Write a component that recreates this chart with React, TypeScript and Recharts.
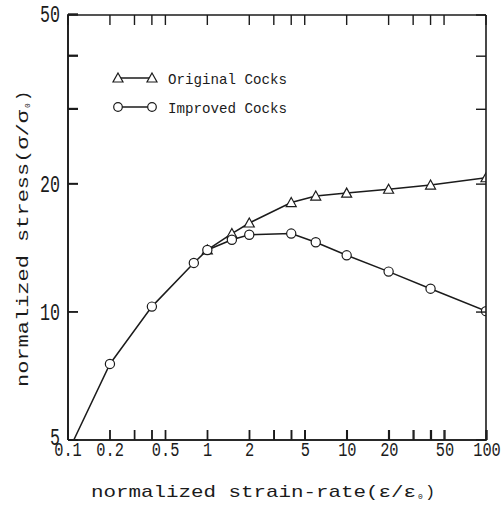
import { LineChart, Line, XAxis, YAxis, Legend, Label } from "recharts"

const strainTicks = [0.1, 0.2, 0.3, 0.4, 0.5, 1, 2, 3, 4, 5, 10, 20, 30, 40, 50, 100]
const strainLabels = [0.1, 0.2, 0.5, 1, 2, 5, 10, 20, 50, 100]
const stressTicks = [5, 10, 20, 30, 40, 50]
const stressLabels = [5, 10, 20, 50]

const improvedRate = [0.11, 0.2, 0.4, 0.8, 1, 1.5, 2, 4, 6, 10, 20, 40, 100]
const improvedStress = [5, 7.55, 10.3, 13.05, 14.0, 14.8, 15.2, 15.3, 14.6, 13.6, 12.45, 11.35, 10.05]
const originalRate = [1, 1.5, 2, 4, 6, 10, 20, 40, 100]
const originalStress = [14.0, 15.3, 16.2, 18.1, 18.75, 19.05, 19.45, 19.9, 20.7]

const improved = improvedRate.map((x, i) => ({ x, y: improvedStress[i] }))
const original = originalRate.map((x, i) => ({ x, y: originalStress[i] }))

const ink = "#1b1b1b"
const mono = '"Liberation Mono", "DejaVu Sans Mono", monospace'
const frame = { stroke: ink, strokeWidth: 1.6 }
const tickStyle = { stroke: ink, strokeWidth: 1.4 }
const hiddenTick = { fill: "none", fontSize: 1 }

const tri = (cx: number, cy: number) => `M${cx},${cy - 5} L${cx + 5},${cy + 4} L${cx - 5},${cy + 4} Z`

const TriangleDot = (p: any) => (
  <path key={p.key} d={tri(p.cx, p.cy)} fill="#fff" stroke={ink} strokeWidth={1.2} />
)

const CircleDot = (p: any) => (
  <circle key={p.key} cx={p.cx} cy={p.cy} r={p.index === 0 ? 0 : 4.6} fill="#fff" stroke={ink} strokeWidth={1.2} />
)

const BottomTick = (p: any) => {
  const v = p.payload.value
  const label = strainLabels.includes(v) ? String(v) : ""
  return (
    <text x={p.x} y={p.y + 16} textAnchor="middle" fontFamily={mono} fontSize={20} fill={ink}
      textLength={label ? label.length * 9.2 : undefined} lengthAdjust="spacingAndGlyphs">{label}</text>
  )
}

const LeftTick = (p: any) => {
  const v = p.payload.value
  const label = stressLabels.includes(v) ? String(v) : ""
  return (
    <text x={p.x - 8} y={p.y + (v === 5 ? 5 : 8)} textAnchor="end" fontFamily={mono} fontSize={23} fill={ink}
      textLength={label ? label.length * 10 : undefined} lengthAdjust="spacingAndGlyphs">{label}</text>
  )
}

const XTitle = (p: any) => {
  const vb = p.viewBox || { x: 68, y: 440, width: 418, height: 66 }
  const x0 = vb.x + 23
  const yb = vb.y + 57
  return (
    <g fontFamily={mono} fill={ink}>
      <text x={x0} y={yb} fontSize={17} textLength={325} lengthAdjust="spacingAndGlyphs">normalized strain-rate(ε/ε</text>
      <text x={x0 + 327} y={yb + 2} fontSize={8}>0</text>
      <text x={x0 + 334} y={yb} fontSize={17}>)</text>
    </g>
  )
}

const YTitle = (p: any) => {
  const vb = p.viewBox || { x: 0, y: 15, width: 68, height: 425 }
  const xb = vb.x + 28
  const y0 = vb.y + vb.height - 53
  return (
    <g fontFamily={mono} fill={ink} transform={`rotate(-90, ${xb}, ${y0})`}>
      <text x={xb} y={y0} fontSize={17} textLength={277} lengthAdjust="spacingAndGlyphs">normalized stress(σ/σ</text>
      <text x={xb + 279} y={y0 + 2} fontSize={8}>0</text>
      <text x={xb + 286} y={y0} fontSize={17}>)</text>
    </g>
  )
}

const LegendBox = () => (
  <svg width={200} height={56} style={{ display: "block" }}>
    <line x1={7} x2={43} y1={13} y2={13} stroke={ink} strokeWidth={1.3} />
    <path d={tri(8, 13)} fill="#fff" stroke={ink} strokeWidth={1.2} />
    <path d={tri(42, 13)} fill="#fff" stroke={ink} strokeWidth={1.2} />
    <text x={58} y={19} fontFamily={mono} fontSize={15} fill={ink} textLength={119} lengthAdjust="spacingAndGlyphs">Original Cocks</text>
    <line x1={7} x2={43} y1={42} y2={42} stroke={ink} strokeWidth={1.3} />
    <circle cx={8} cy={42} r={4.3} fill="#fff" stroke={ink} strokeWidth={1.2} />
    <circle cx={42} cy={42} r={4.3} fill="#fff" stroke={ink} strokeWidth={1.2} />
    <text x={58} y={48} fontFamily={mono} fontSize={15} fill={ink} textLength={119} lengthAdjust="spacingAndGlyphs">Improved Cocks</text>
  </svg>
)

// series layer: axes hidden, same plot box as the frame layer
const SeriesLayer = () => (
  <LineChart width={501} height={506} margin={{ top: 15, right: 15, left: 68, bottom: 66 }}>
    <XAxis dataKey="x" type="number" scale="log" domain={[0.1, 100]} allowDataOverflow hide />
    <YAxis type="number" scale="log" domain={[5, 50]} allowDataOverflow hide />
    <Legend layout="horizontal" verticalAlign="middle" align="center" content={LegendBox}
      wrapperStyle={{ left: 110, top: 65, width: 200, height: 56 }} />
    <Line data={original} dataKey="y" stroke={ink} strokeWidth={1.5}
      dot={TriangleDot} activeDot={false} isAnimationActive={false} />
    <Line data={improved} dataKey="y" stroke={ink} strokeWidth={1.5}
      dot={CircleDot} activeDot={false} isAnimationActive={false} />
  </LineChart>
)

// label layer: tick labels and axis titles
const LabelLayer = () => (
  <LineChart width={501} height={506} margin={{ top: 14, right: 14, left: 0, bottom: 0 }}>
    <XAxis xAxisId="b" dataKey="x" type="number" scale="log" domain={[0.1, 100]} allowDataOverflow
      ticks={strainTicks} interval={0} tickSize={-10} tickMargin={10} height={66}
      axisLine={frame} tickLine={tickStyle} tick={BottomTick}
      label={<Label content={XTitle} />} />
    <YAxis yAxisId="l" type="number" scale="log" domain={[5, 50]} allowDataOverflow
      ticks={stressTicks} interval={0} tickSize={-10} tickMargin={10} width={68}
      axisLine={frame} tickLine={tickStyle} tick={LeftTick}
      label={<Label content={YTitle} />} />
    <Line xAxisId="b" yAxisId="l" data={improved} dataKey="y" stroke="none" dot={false} activeDot={false}
      legendType="none" isAnimationActive={false} />
  </LineChart>
)

// frame layer: plain axes forming the box, inward ticks on all four sides
const FrameLayer = () => (
  <LineChart width={501} height={506} margin={{ top: 14, right: 14, left: 0, bottom: 0 }}>
    <XAxis xAxisId="b" dataKey="x" type="number" scale="log" domain={[0.1, 100]} allowDataOverflow
      ticks={strainTicks} interval={0} tickSize={-10} tickMargin={10} height={66}
      axisLine={frame} tickLine={tickStyle} tick={hiddenTick} />
    <XAxis xAxisId="t" orientation="top" dataKey="x" type="number" scale="log" domain={[0.1, 100]} allowDataOverflow
      ticks={strainTicks} interval={0} tickSize={-10} tickMargin={0} height={1}
      axisLine={frame} tickLine={tickStyle} tick={hiddenTick} />
    <YAxis yAxisId="l" type="number" scale="log" domain={[5, 50]} allowDataOverflow
      ticks={stressTicks} interval={0} tickSize={-10} tickMargin={10} width={68}
      axisLine={frame} tickLine={tickStyle} tick={hiddenTick} />
    <YAxis yAxisId="r" orientation="right" type="number" scale="log" domain={[5, 50]} allowDataOverflow
      ticks={stressTicks} interval={0} tickSize={-10} tickMargin={0} width={1}
      axisLine={frame} tickLine={tickStyle} tick={hiddenTick} />
    <Line xAxisId="b" yAxisId="l" data={improved} dataKey="y" stroke="none" dot={false} activeDot={false}
      legendType="none" isAnimationActive={false} />
    <Line xAxisId="t" yAxisId="r" data={improved} dataKey="y" stroke="none" dot={false} activeDot={false}
      legendType="none" isAnimationActive={false} />
  </LineChart>
)

export default function App() {
  return (
    <div style={{ position: "absolute", left: 0, top: 0, width: 501, height: 506, background: "#fff" }}>
      <div style={{ position: "absolute", left: 0, top: 0 }}><SeriesLayer /></div>
      <div style={{ position: "absolute", left: 0, top: 0, pointerEvents: "none" }}><LabelLayer /></div>
      <div style={{ position: "absolute", left: 0, top: 0, pointerEvents: "none" }}><FrameLayer /></div>
    </div>
  )
}
